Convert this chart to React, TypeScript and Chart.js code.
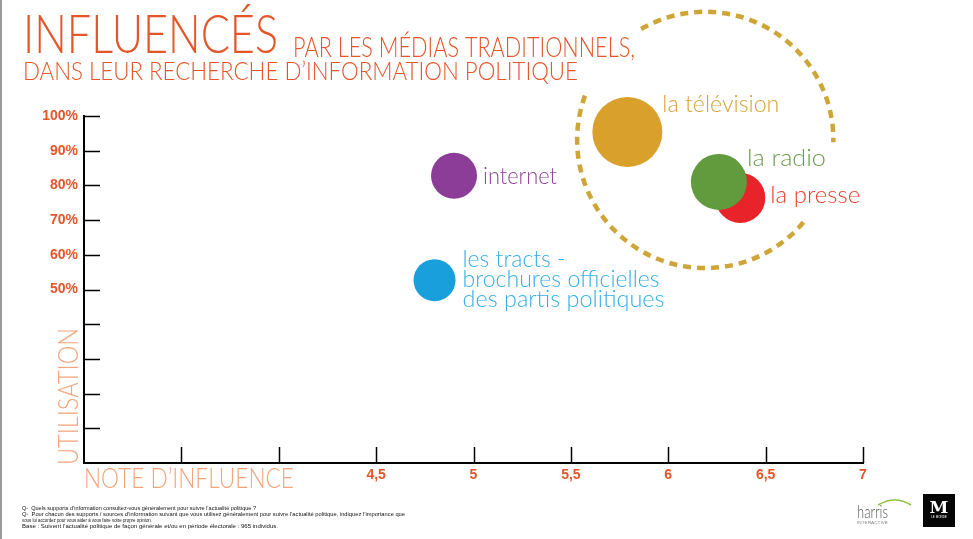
import { useEffect, useRef } from 'react';
import { Chart, registerables } from 'chart.js';

Chart.register(...registerables);

// ---------- data ----------
const media = ['la télévision', 'internet', 'la radio', 'la presse', 'les tracts -'];
const mediaExtraLines = [[], [], [], [], ['brochures officielles', 'des partis politiques']];
const influence = [5.79, 4.9, 6.26, 6.37, 4.8]; // note d'influence
const usage = [95.4, 82.8, 81.0, 76.4, 52.7]; // utilisation (%)
const bubbleSize = [35, 23, 28, 25, 21];
const bubbleColors = ['#d9a02c', '#8c3d97', '#619b3e', '#e8232a', '#189fdc'];
const labelColors = ['#d6a33a', '#8e4299', '#6b9d4f', '#e8412b', '#35aee8'];

const xTickValues = [4.5, 5, 5.5, 6, 6.5, 7];
const xTickLabels = ['4,5', '5', '5,5', '6', '6,5', '7'];
const yTickValues = [50, 60, 70, 80, 90, 100];
const yTickLabels = ['50%', '60%', '70%', '80%', '90%', '100%'];

const titleMain = 'INFLUENCÉS';
const titleRest = 'PAR LES MÉDIAS TRADITIONNELS,';
const titleLine2 = 'DANS LEUR RECHERCHE D\u2019INFORMATION POLITIQUE';
const xAxisTitle = 'NOTE D\u2019INFLUENCE';
const yAxisTitle = 'UTILISATION';
const footnotes = [
  'Q-  Quels supports d\u2019information consultez-vous généralement pour suivre l\u2019actualité politique ?',
  'Q-  Pour chacun des supports / sources d\u2019information suivant que vous utilisez généralement pour suivre l\u2019actualité politique, indiquez l\u2019importance que',
  'vous lui accordez pour vous aider à vous faire votre propre opinion.',
  'Base : Suivent l\u2019actualité politique de façon générale et/ou en période électorale : 965 individus.',
];

// dashed ring (decoration) in data units
const ringCenter = { x: 6.19, y: 93.1 };
const ringRadiusX = 0.658;
const ringArcs = [[-120, 1], [40, 201]];

// ---------- layout (pixels) ----------
const labelLayout = [
  { dx: 35, dy: [-20], w: [117] },
  { dx: 29, dy: [8], w: [74] },
  { dx: 28, dy: [-16], w: [79] },
  { dx: 30, dy: [5], w: [90] },
  { dx: 28, dy: [-13, 7, 27], w: [103, 197, 202] },
];
const footWidths = [234, 383, 130, 256];

const ORANGE = '#e2562a';
const LIGHT_ORANGE = '#f2a57c';

function fitText(ctx: CanvasRenderingContext2D, text: string, x: number, y: number, width: number, font: string, color: string) {
  ctx.save();
  ctx.font = font;
  ctx.fillStyle = color;
  ctx.textBaseline = 'alphabetic';
  ctx.textAlign = 'left';
  const w = ctx.measureText(text).width || 1;
  ctx.translate(x, y);
  ctx.scale(width / w, 1);
  ctx.fillText(text, 0, 0);
  ctx.restore();
}

const decorPlugin = {
  id: 'decor',
  beforeDatasetsDraw(chart: any) {
    const { ctx, scales } = chart;
    const xs = scales.x;
    const ys = scales.y;
    // inward tick marks
    ctx.save();
    ctx.strokeStyle = '#000';
    ctx.lineWidth = 1.5;
    for (let v = 10; v <= 100; v += 10) {
      const py = Math.round(ys.getPixelForValue(v)) + 0.5;
      ctx.beginPath();
      ctx.moveTo(xs.left, py);
      ctx.lineTo(xs.left + 16, py);
      ctx.stroke();
    }
    for (let v = 3.5; v <= 7.001; v += 0.5) {
      const px = Math.round(xs.getPixelForValue(v)) + 0.5;
      ctx.beginPath();
      ctx.moveTo(px, ys.bottom);
      ctx.lineTo(px, ys.bottom - 16);
      ctx.stroke();
    }
    // dashed ring
    const cx = xs.getPixelForValue(ringCenter.x);
    const cy = ys.getPixelForValue(ringCenter.y);
    const r = xs.getPixelForValue(ringCenter.x + ringRadiusX) - cx;
    ctx.strokeStyle = '#cfa537';
    ctx.lineWidth = 4.5;
    ctx.setLineDash([8, 6]);
    for (const [a0, a1] of ringArcs) {
      ctx.beginPath();
      ctx.arc(cx, cy, r, (a0 * Math.PI) / 180, (a1 * Math.PI) / 180);
      ctx.stroke();
    }
    ctx.restore();
  },
  afterDraw(chart: any) {
    const { ctx, scales } = chart;
    const xs = scales.x;
    const ys = scales.y;
    // left border
    ctx.save();
    ctx.fillStyle = '#9a9a9a';
    ctx.fillRect(0, 0, 2, chart.height);
    ctx.restore();

    // titles
    fitText(ctx, titleMain, 23, 53, 255, '300 53px Lato', ORANGE);
    fitText(ctx, titleRest, 293, 57, 342, '300 28px Lato', ORANGE);
    fitText(ctx, titleLine2, 23, 80, 555, '300 25px Lato', ORANGE);

    // axis titles
    fitText(ctx, xAxisTitle, xs.left, 488, 210, '300 28px Lato', LIGHT_ORANGE);
    ctx.save();
    ctx.translate(78, ys.bottom + 2);
    ctx.rotate(-Math.PI / 2);
    fitText(ctx, yAxisTitle, 0, 0, 137, '300 28px Lato', LIGHT_ORANGE);
    ctx.restore();

    // bubble labels
    media.forEach((name, i) => {
      const px = xs.getPixelForValue(influence[i]);
      const py = ys.getPixelForValue(usage[i]);
      const lines = [name, ...mediaExtraLines[i]];
      const lay = labelLayout[i];
      lines.forEach((ln, k) => {
        fitText(ctx, ln, px + lay.dx, py + lay.dy[k], lay.w[k], '300 23px Lato', labelColors[i]);
      });
    });

    // footnotes
    footnotes.forEach((t, i) => {
      fitText(ctx, t, 22, 510 + i * 6, footWidths[i], '5.5px "Liberation Sans"', '#111');
    });

    // harris logo
    fitText(ctx, 'harris', 857, 518, 31, '300 17px Lato', '#555');
    fitText(ctx, 'INTERACTIVE', 857, 524, 31, '3px "Liberation Sans"', '#8a8a8a');
    ctx.save();
    ctx.strokeStyle = '#8cc63f';
    ctx.lineWidth = 1.5;
    ctx.beginPath();
    ctx.moveTo(878, 505);
    ctx.quadraticCurveTo(895, 495, 911, 505);
    ctx.stroke();
    // Le Monde logo
    ctx.fillStyle = '#050505';
    ctx.fillRect(923, 494, 32, 33);
    ctx.fillStyle = '#fff';
    ctx.font = 'bold 17px "DejaVu Serif"';
    ctx.textAlign = 'center';
    ctx.textBaseline = 'alphabetic';
    ctx.fillText('M', 939, 513);
    ctx.font = '3px "Liberation Sans"';
    ctx.fillText('LE MONDE', 939, 518);
    ctx.restore();
  },
};

export default function App() {
  const ref = useRef<HTMLCanvasElement | null>(null);
  useEffect(() => {
    if (!ref.current) return;
    const datasets = media.map((name, i) => ({
      label: name,
      data: [{ x: influence[i], y: usage[i], r: bubbleSize[i] }],
      backgroundColor: bubbleColors[i],
      borderColor: bubbleColors[i],
      borderWidth: 0,
      hoverRadius: 0,
      clip: false,
    }));
    const tickFont = { family: '"Liberation Sans", Arial, sans-serif', size: 14, weight: 'bold' as const };
    const chart = new Chart(ref.current, {
      type: 'bubble',
      data: { datasets },
      options: {
        animation: false,
        responsive: false,
        events: [],
        layout: { padding: { left: 0, top: 116, right: 110, bottom: 0 } },
        plugins: { legend: { display: false }, tooltip: { enabled: false }, title: { display: false } },
        scales: {
          x: {
            type: 'linear',
            min: 3,
            max: 7,
            afterFit: (s: any) => { s.height = 76; },
            afterBuildTicks: (s: any) => {
              const t = [];
              for (let v = 3; v <= 7.001; v += 0.5) t.push({ value: v });
              s.ticks = t;
            },
            grid: { display: false, drawTicks: false },
            border: { display: true, color: '#000', width: 2 },
            ticks: {
              autoSkip: false,
              maxRotation: 0,
              padding: 4,
              color: ORANGE,
              font: tickFont,
              callback: (v: any) => {
                const idx = xTickValues.findIndex((t) => Math.abs(t - Number(v)) < 1e-6);
                return idx >= 0 ? xTickLabels[idx] : '';
              },
            },
          },
          y: {
            type: 'linear',
            min: 0,
            max: 100,
            afterFit: (s: any) => { s.width = 84; },
            afterBuildTicks: (s: any) => {
              const t = [];
              for (let v = 0; v <= 100; v += 10) t.push({ value: v });
              s.ticks = t;
            },
            grid: { display: false, drawTicks: false },
            border: { display: true, color: '#000', width: 2 },
            ticks: {
              autoSkip: false,
              padding: 6,
              color: ORANGE,
              font: tickFont,
              callback: (v: any) => {
                const idx = yTickValues.indexOf(Number(v));
                return idx >= 0 ? yTickLabels[idx] : '';
              },
            },
          },
        },
      },
      plugins: [decorPlugin],
    } as any);
    return () => chart.destroy();
  }, []);
  return (
    <div style={{ position: 'fixed', left: 0, top: 0, width: 973, height: 539, background: '#fff' }}>
      <canvas ref={ref} width={973} height={539} style={{ display: 'block', width: 973, height: 539 }} />
    </div>
  );
}
